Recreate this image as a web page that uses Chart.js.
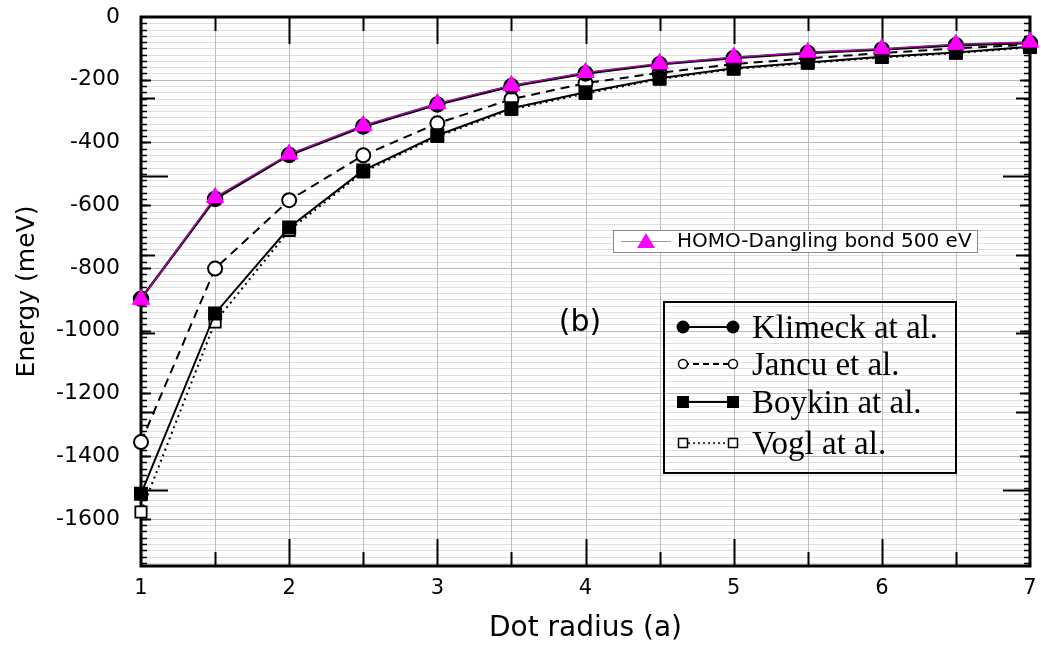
<!DOCTYPE html>
<html>
<head>
<meta charset="utf-8">
<script src="https://cdn.jsdelivr.net/npm/chart.js@4.4.1/dist/chart.umd.min.js"></script>
<style>
  html, body { margin: 0; padding: 0; background: #ffffff; }
  #wrap { width: 1041px; height: 648px; }
</style>
</head>
<body>
<div id="wrap"><canvas id="c" width="1041" height="648"></canvas></div>
<script>
// ---- data ----
const radii   = [1, 1.5, 2, 2.5, 3, 3.5, 4, 4.5, 5, 5.5, 6, 6.5, 7];
const homo    = [-900, -575, -437, -346, -276, -218, -177, -148, -128, -112, -101, -87, -80];
const klimeck = [-898, -580, -440, -349, -279, -221, -180, -151, -131, -115, -104, -90, -83];
const jancu   = [-1355, -802, -584, -441, -339, -262, -211, -178, -150, -132, -115, -100, -88];
const boykin  = [-1520, -945, -671, -489, -377, -291, -240, -195, -163, -145, -127, -113, -95];
const vogl    = [-1578, -972, -680, -494, -381, -295, -244, -198, -166, -147, -129, -115, -97];

const xTickValues = [1, 2, 3, 4, 5, 6, 7];
const yTickValues = [0, -200, -400, -600, -800, -1000, -1200, -1400, -1600];

const seriesNames = ['HOMO-Dangling bond 500 eV', 'Klimeck at al.', 'Jancu et al.', 'Boykin at al.', 'Vogl at al.'];
const panelLabel = '(b)';
const xTitle = 'Dot radius (a)';
const yTitle = 'Energy (meV)';

const pts = arr => arr.map((v, i) => ({ x: radii[i], y: v }));

const SANS = "'DejaVu Sans', 'Liberation Sans', Arial, sans-serif";
const SERIF = "'Liberation Serif', 'DejaVu Serif', 'Times New Roman', serif";

const decor = {
  id: 'decor',
  beforeDatasetsDraw(chart) {
    const { ctx, chartArea: a, scales: { x, y } } = chart;
    ctx.save();
    // horizontal grid every 20 meV
    for (let k = 0; k <= 87; k++) {
      const v = -20 * k;
      const py = Math.round(y.getPixelForValue(v)) + 0.5;
      ctx.strokeStyle = (k % 10 === 0) ? '#b8b8b8' : '#dedede';
      ctx.lineWidth = 1;
      ctx.beginPath(); ctx.moveTo(a.left, py); ctx.lineTo(a.right, py); ctx.stroke();
    }
    // vertical grid every 0.5
    for (let k = 1; k < 12; k++) {
      const v = 1 + 0.5 * k;
      const px = Math.round(x.getPixelForValue(v)) + 0.5;
      ctx.strokeStyle = '#bcbcbc';
      ctx.lineWidth = 1;
      ctx.beginPath(); ctx.moveTo(px, a.top); ctx.lineTo(px, a.bottom); ctx.stroke();
    }
    // frame
    ctx.strokeStyle = '#000';
    ctx.lineWidth = 3;
    ctx.strokeRect(a.left, a.top, a.width, a.height);
    // x ticks (inward, top and bottom)
    ctx.lineWidth = 2;
    for (let k = 1; k < 12; k++) {
      const v = 1 + 0.5 * k;
      const px = Math.round(x.getPixelForValue(v)) + 0.5;
      const len = (k % 2 === 0) ? 27 : 14;
      ctx.beginPath();
      ctx.moveTo(px, a.top); ctx.lineTo(px, a.top + len);
      ctx.moveTo(px, a.bottom); ctx.lineTo(px, a.bottom - len);
      ctx.stroke();
    }
    // y ticks (inward, left and right)
    const yTick = (v, len, w) => {
      const py = Math.round(y.getPixelForValue(v)) + 0.5;
      ctx.lineWidth = w;
      ctx.beginPath();
      ctx.moveTo(a.left, py); ctx.lineTo(a.left + len, py);
      ctx.moveTo(a.right, py); ctx.lineTo(a.right - len, py);
      ctx.stroke();
    };
    for (let k = 1; k <= 87; k++) yTick(-20 * k, 6, 1.5);
    for (let k = 1; k <= 8; k++) yTick(-200 * k, 10, 2);
    [-258, -758, -1008, -1258].forEach(v => yTick(v, 14, 2));
    [-508, -1508].forEach(v => yTick(v, 27, 2));
    ctx.restore();
  },
  afterDatasetsDraw(chart) {
    const { ctx } = chart;
    ctx.save();
    // panel label
    ctx.fillStyle = '#000';
    ctx.font = '30px ' + SANS;
    ctx.textAlign = 'center';
    ctx.textBaseline = 'middle';
    ctx.fillText(panelLabel, 580, 323);

    // HOMO legend box
    ctx.fillStyle = '#fff';
    ctx.fillRect(613, 230, 364, 22);
    ctx.strokeStyle = '#8a8a8a';
    ctx.lineWidth = 1;
    ctx.strokeRect(613.5, 230.5, 364, 22);
    ctx.strokeStyle = '#ff55ff';
    ctx.beginPath(); ctx.moveTo(621, 241.5); ctx.lineTo(671, 241.5); ctx.stroke();
    ctx.fillStyle = '#ff00ff';
    ctx.beginPath(); ctx.moveTo(646, 233); ctx.lineTo(655, 248); ctx.lineTo(637, 248); ctx.closePath(); ctx.fill();
    ctx.fillStyle = '#000';
    ctx.font = '20px ' + SANS;
    ctx.textAlign = 'left';
    ctx.fillText(seriesNames[0], 677, 242);

    // main legend box
    ctx.strokeStyle = '#000';
    ctx.lineWidth = 2;
    ctx.strokeRect(664, 302, 292, 171);
    const rows = [327, 364, 402, 443];
    const x0 = 683, x1 = 733;
    ctx.font = '33px ' + SERIF;
    ctx.textBaseline = 'alphabetic';
    for (let i = 0; i < 4; i++) {
      const yy = rows[i];
      ctx.strokeStyle = '#000';
      ctx.lineWidth = i === 3 ? 1.5 : 2;
      ctx.setLineDash(i === 1 ? [6, 4] : (i === 3 ? [2, 3] : []));
      ctx.beginPath(); ctx.moveTo(x0, yy); ctx.lineTo(x1, yy); ctx.stroke();
      ctx.setLineDash([]);
      [x0, x1].forEach(cx => {
        ctx.beginPath();
        if (i === 0) { ctx.arc(cx, yy, 6.5, 0, Math.PI * 2); ctx.fillStyle = '#000'; ctx.fill(); }
        if (i === 1) { ctx.arc(cx, yy, 4.5, 0, Math.PI * 2); ctx.fillStyle = '#fff'; ctx.fill(); ctx.lineWidth = 1.5; ctx.stroke(); }
        if (i === 2) { ctx.rect(cx - 6, yy - 6, 12, 12); ctx.fillStyle = '#000'; ctx.fill(); }
        if (i === 3) { ctx.rect(cx - 4.5, yy - 4.5, 9, 9); ctx.fillStyle = '#fff'; ctx.fill(); ctx.lineWidth = 1.5; ctx.stroke(); }
      });
      ctx.fillStyle = '#000';
      ctx.fillText(seriesNames[i + 1], 752, yy + 11);
    }
    ctx.restore();
  }
};

new Chart(document.getElementById('c'), {
  type: 'line',
  data: {
    datasets: [
      { label: seriesNames[0], data: pts(homo), borderColor: '#a010a0', backgroundColor: '#ff00ff',
        borderWidth: 1.5, pointStyle: 'triangle', pointRadius: 10, pointBorderColor: '#ff00ff',
        pointBackgroundColor: '#ff00ff', pointBorderWidth: 1, order: 0, clip: false },
      { label: seriesNames[1], data: pts(klimeck), borderColor: '#000', borderWidth: 2.5,
        pointStyle: 'circle', pointRadius: 7, pointBackgroundColor: '#000', pointBorderColor: '#000',
        order: 1, clip: false },
      { label: seriesNames[2], data: pts(jancu), borderColor: '#000', borderWidth: 2, borderDash: [9, 6],
        pointStyle: 'circle', pointRadius: 7, pointBackgroundColor: '#fff', pointBorderColor: '#000',
        pointBorderWidth: 2, order: 3, clip: false },
      { label: seriesNames[3], data: pts(boykin), borderColor: '#000', borderWidth: 2,
        pointStyle: 'rect', pointRadius: 8.5, pointBackgroundColor: '#000', pointBorderColor: '#000',
        order: 2, clip: false },
      { label: seriesNames[4], data: pts(vogl), borderColor: '#000', borderWidth: 2, borderDash: [2, 4],
        pointStyle: 'rect', pointRadius: 8, pointBackgroundColor: '#fff', pointBorderColor: '#000',
        pointBorderWidth: 1.8, order: 4, clip: false }
    ]
  },
  options: {
    responsive: false,
    animation: false,
    events: [],
    layout: { padding: { top: 17, right: 7, left: 0, bottom: 0 } },
    plugins: { legend: { display: false }, tooltip: { enabled: false } },
    scales: {
      x: {
        type: 'linear', min: 1, max: 7,
        grid: { display: false }, border: { display: false },
        afterBuildTicks: s => { s.ticks = xTickValues.map(v => ({ value: v })); },
        afterFit: s => { s.height = 82; s.paddingLeft = 0; s.paddingRight = 0; },
        ticks: { color: '#000', font: { family: SANS, size: 21 }, padding: 2, maxRotation: 0,
                 callback: v => String(v) },
        title: { display: true, text: xTitle, color: '#000', font: { family: SANS, size: 28 },
                 padding: { top: 0, bottom: 2 } }
      },
      y: {
        type: 'linear', min: -1750, max: 0,
        grid: { display: false }, border: { display: false },
        afterBuildTicks: s => { s.ticks = yTickValues.map(v => ({ value: v })); },
        afterFit: s => { s.width = 141; s.paddingTop = 0; s.paddingBottom = 0; },
        ticks: { color: '#000', font: { family: SANS, size: 22 }, padding: 13,
                 callback: v => String(v) },
        title: { display: true, text: yTitle, color: '#000', font: { family: SANS, size: 25 },
                 padding: { top: 12, bottom: 0 } }
      }
    }
  },
  plugins: [decor]
});
</script>
</body>
</html>
